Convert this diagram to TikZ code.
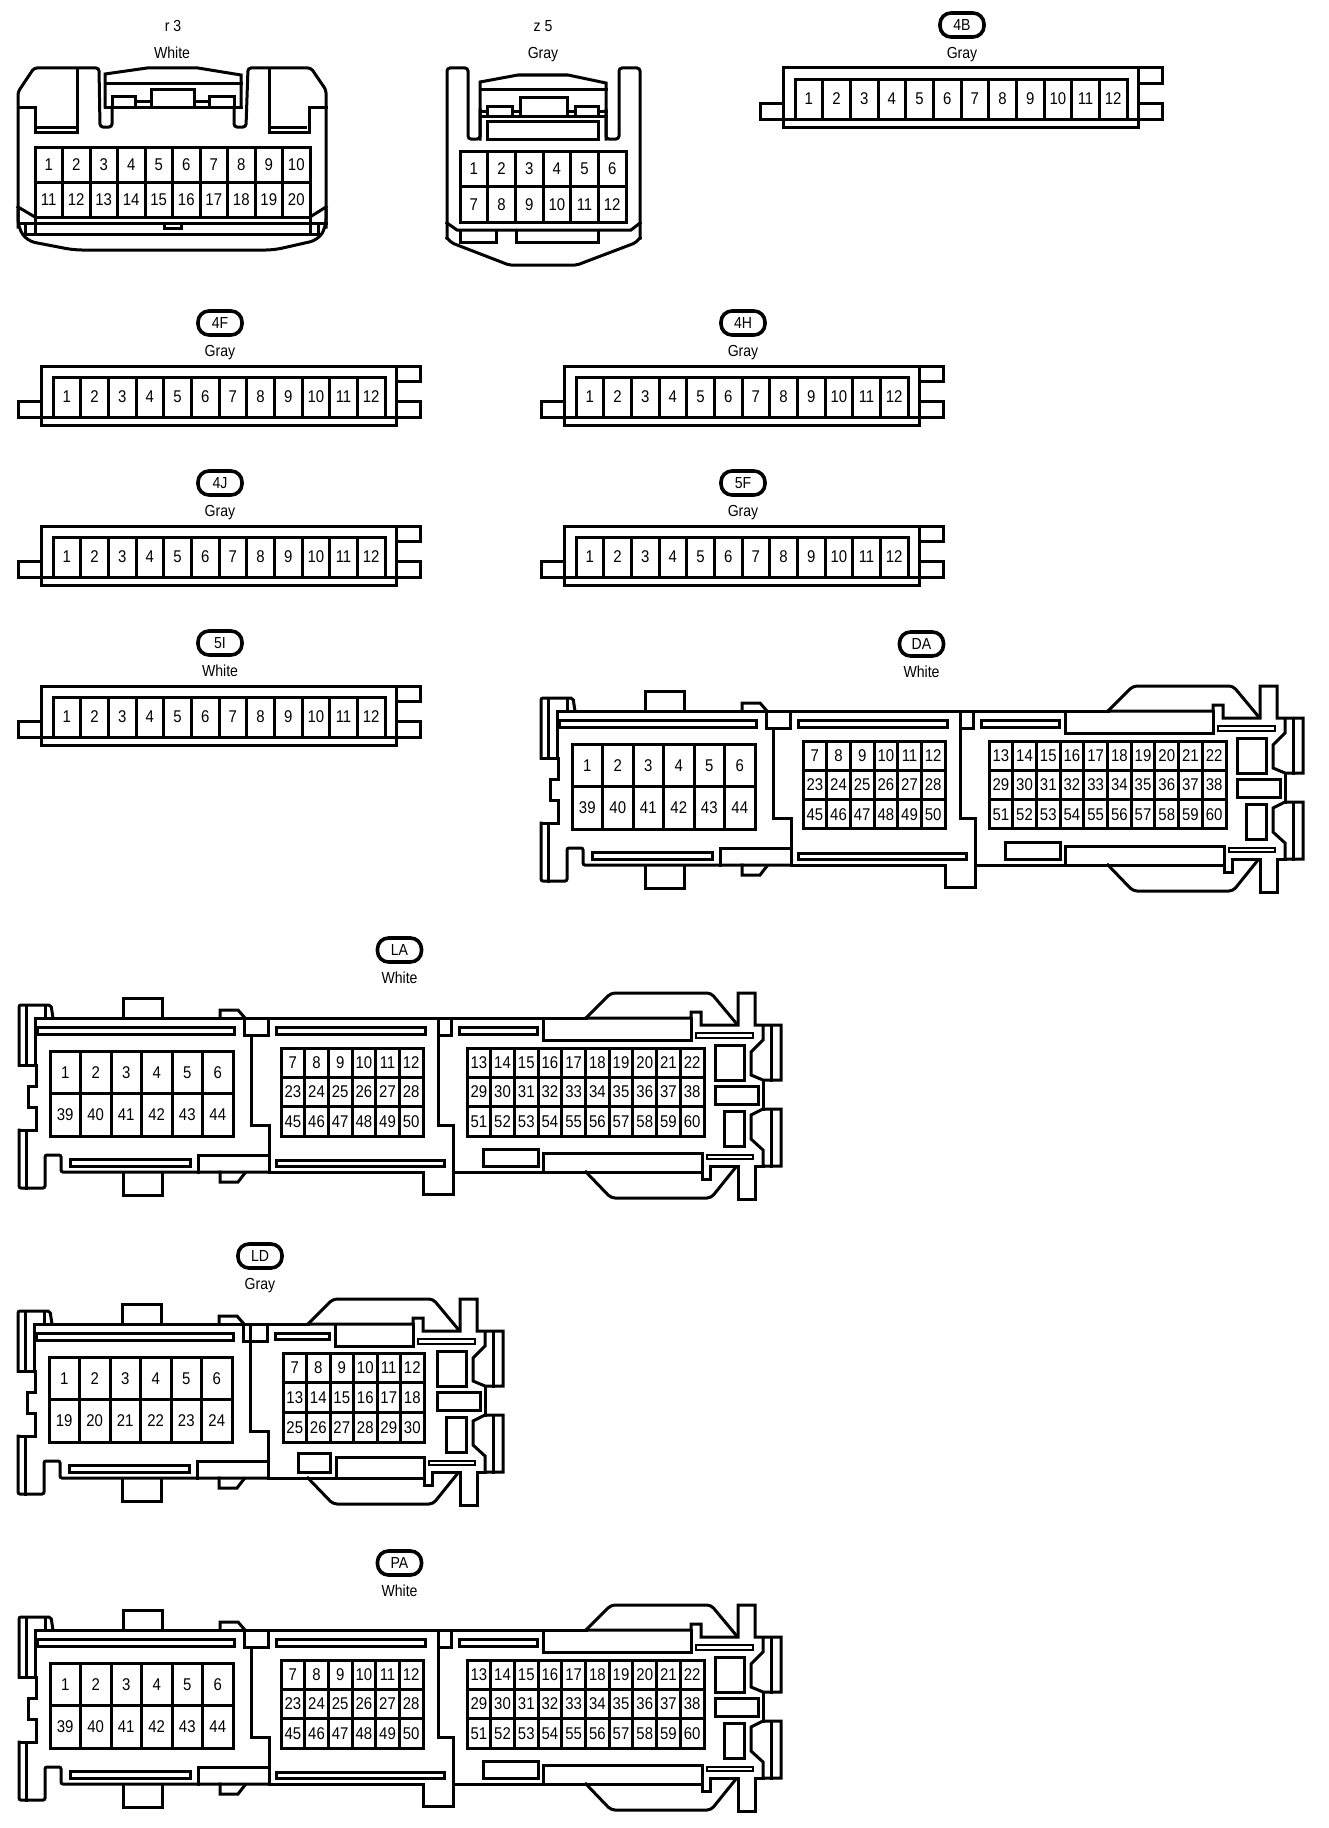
\documentclass[tikz,border=0pt]{standalone}
\usepackage{fontspec}
\setmainfont[FakeStretch=0.88]{Liberation Sans}

\newcommand{\pinrows}[7]{
\foreach \num [count=\k from 0] in {#7} {
\pgfmathtruncatemacro{\pincol}{mod(\k,#4)}
\pgfmathtruncatemacro{\pinrow}{int(\k/#4)}
\node[pin,minimum width=#5pt,minimum height=#6pt] (#1-\num) at ({#2+(\pincol+0.5)*#5},{#3+(\pinrow+0.5)*#6}) {\num};
}
}

\newcommand{\stripconn}[4]{
\begin{scope}[shift={(#1,#2)}]
\draw[wall] (23,0) rectangle (378,59);
\draw[wall] (23,51) -- (378,51);
\draw[wall] (23,35) -- (0,35) -- (0,51) -- (23,51);
\draw[wall] (378,0) -- (402,0) -- (402,15) -- (378,15);
\draw[wall] (378,35) -- (402,35) -- (402,51) -- (378,51);
\pinrows{#3}{35}{11}{12}{27.67}{40}{1,...,12}
\node[tag] (tag#3) at (202,-43) {#3};
\node[txt] (col#3) at (202,-15) {#4};
\end{scope}
}

\newcommand{\leftend}{
\draw[wall,rounded corners=2pt] (541,758) -- (541,698) -- (573,698) -- (575,711);
\draw[wall] (548,698) -- (548,758);
\draw[wall] (567,698) -- (567,711);
\draw[wall] (541,758) -- (557,758) -- (557,711) -- (791,711);
\draw[wall] (645,711) -- (645,691) -- (684,691) -- (684,711);
\draw[wall] (742,711) -- (742,703) -- (760,703) -- (767,711);
\draw[wall] (766,711) -- (766,728) -- (790,728) -- (790,711);
\draw[wall] (559,720.5) rectangle (756,727);
\draw[wall] (773,728) -- (773,818) -- (791,818) -- (791,865);
\draw[wall] (558,758) -- (558,779) -- (550,779) -- (550,800) -- (558,800) -- (558,823) -- (541,823);
\draw[wall,rounded corners=2pt] (541,823) -- (541,881) -- (567,881) -- (567,848) -- (583,848) -- (583,865) -- (791,865);
\draw[wall] (548,823) -- (548,881);
\draw[wall] (720,865) -- (720,848) -- (791,848);
\draw[wall] (592,852.5) rectangle (712,859);
\draw[wall] (645,865) -- (645,888) -- (684,888) -- (684,865);
\draw[wall] (742,865) -- (742,875) -- (760,875) -- (767,866);
}

\newcommand{\rightend}{
\draw[wall] (1108,711) -- (1213,711) -- (1213,705) -- (1223,705) -- (1223,718) -- (1260,718) -- (1260,686) -- (1277,686) -- (1277,718) -- (1303,718) -- (1303,773) -- (1285,773) -- (1273,768) -- (1273,745) -- (1285,733) -- (1285,718);
\draw[wall] (1293,718) -- (1293,773);
\draw[wall] (1285,773) -- (1285,802);
\draw[wall] (1285,802) -- (1303,802) -- (1303,859) -- (1285,859) -- (1285,843) -- (1273,832) -- (1273,808) -- cycle;
\draw[wall] (1293,802) -- (1293,859);
\draw[wall] (1108,865) -- (1224,865) -- (1224,872) -- (1232,872) -- (1232,859) -- (1260,859) -- (1260,892) -- (1277,892) -- (1277,859) -- (1285,859);
\draw[wall,rounded corners=4pt] (1108,711) -- (1133,686) -- (1233,686) -- (1258,716);
\draw[wall,rounded corners=4pt] (1108,865) -- (1133,891) -- (1233,891) -- (1258,860);
\draw[wall,line width=2pt] (1218,726) rectangle (1275,730.5);
\draw[wall,line width=2pt] (1229,847.5) rectangle (1275,851.5);
\draw[wall] (1237,738) rectangle (1266,773);
\draw[wall] (1237,779) rectangle (1280,797);
\draw[wall] (1246,804) rectangle (1266,839);
\draw[wall] (1213,711) -- (1213,733);
\draw[wall] (1224,846) -- (1224,865);
}

\newcommand{\widehousing}[1]{
\leftend
\rightend
\draw[wall] (791,711) -- (1108,711);
\draw[wall] (791,865) -- (945,865) -- (945,887) -- (975,887) -- (975,818) -- (960,818) -- (960,711);
\draw[wall] (975,865) -- (1108,865);
\draw[wall] (960,728) -- (973,728) -- (973,711);
\draw[wall] (798,720.5) rectangle (947,727);
\draw[wall] (798,853) rectangle (966,859);
\draw[wall] (981,720.5) rectangle (1059,727);
\draw[wall] (1065,711) -- (1065,733) -- (1213,733);
\draw[wall] (1065,865) -- (1065,846) -- (1224,846);
\draw[wall] (1005,842) rectangle (1060,859);
\pinrows{#1a}{572}{744}{6}{30.5}{42.5}{1,...,6,39,40,...,44}
\pinrows{#1b}{803}{741}{6}{23.67}{29.33}{7,...,12,23,24,...,28,45,46,...,50}
\pinrows{#1c}{989}{741}{10}{23.7}{29.33}{13,...,22,29,30,...,38,51,52,...,60}
}

\begin{document}
\begin{tikzpicture}
[
  x=1pt,y=-1pt,
  wall/.style={line width=3pt,line cap=rect},
  pin/.style={draw,line width=3pt,inner sep=0pt,font=\fontsize{17}{17}\selectfont},
  txt/.style={inner sep=0pt,text height=11.5pt,text depth=0pt,font=\fontsize{16}{16}\selectfont},
  tag/.style={draw,line width=3.6pt,rounded corners=11pt,inner sep=0pt,minimum width=44pt,minimum height=24pt,font=\fontsize{16}{16}\selectfont}
]

\useasboundingbox (0,0) rectangle (1328,1828);

\node[txt] (r3) at (173,26) {r 3};
\node[txt] (r3c) at (172,53) {White};
\draw[wall,rounded corners=3pt] (18,227) -- (18,92) -- (34,68) -- (99,68) -- (100,127) -- (112,127) -- (112,107);
\draw[wall,rounded corners=8pt] (18,210) -- (18,227) -- (27,241) -- (74,250) -- (274,250) -- (318,240) -- (326,227) -- (326,210);
\draw[wall,rounded corners=3pt] (326,227) -- (326,90) -- (311,68) -- (248,68) -- (246,127) -- (234,127) -- (234,107);
\draw[wall] (105,107) -- (105,74) -- (147,68) -- (198,68) -- (241,75) -- (241,107);
\draw[wall] (105,83) -- (241,83);
\draw[wall] (105,107) -- (241,107);
\draw[wall] (112,107) -- (112,96) -- (135,96) -- (135,107);
\draw[wall] (151,107) -- (151,89) -- (194,89) -- (194,107);
\draw[wall] (209,107) -- (209,96) -- (234,96) -- (234,107);
\draw[wall] (135,101) -- (151,101);
\draw[wall] (194,101) -- (209,101);
\draw[wall] (18,107) -- (35,107) -- (35,132) -- (77,132) -- (77,70);
\draw[wall] (326,107) -- (309,107) -- (309,132) -- (269,132) -- (269,70);
\draw[wall] (38,127) -- (75,127);
\draw[wall] (272,127) -- (305,127);
\pinrows{r3p}{35}{147}{10}{27.5}{35}{1,...,20}
\draw[wall] (18,207) -- (35,217);
\draw[wall] (326,207) -- (310,217);
\draw[wall] (18,223) -- (326,223);
\draw[wall] (25,234) -- (318,234);
\draw[wall] (25,223) -- (25,234);
\draw[wall] (35,217) -- (35,234);
\draw[wall] (310,217) -- (310,234);
\draw[wall] (318,223) -- (318,234);
\draw[wall] (164,224) -- (164,228) -- (181,228) -- (181,224);

\node[txt] (z5) at (543,26) {z 5};
\node[txt] (z5c) at (543,53) {Gray};
\draw[wall,rounded corners=3pt] (447,238) -- (447,68) -- (468,68) -- (468,139) -- (480,139) -- (480,110);
\draw[wall] (480,139) -- (480,82) -- (518,75) -- (568,75) -- (606,83) -- (606,139);
\draw[wall,rounded corners=3pt] (606,110) -- (606,139) -- (619,139) -- (619,68) -- (640,68) -- (640,238);
\draw[wall,rounded corners=2pt] (447,238) -- (452,243) -- (509,265) -- (577,265) -- (635,243) -- (640,238);
\draw[wall] (480,89) -- (606,89);
\draw[wall] (480,116) -- (606,116);
\draw[wall] (487,116) -- (487,106) -- (512,106) -- (512,116);
\draw[wall] (520,116) -- (520,97) -- (567,97) -- (567,116);
\draw[wall] (575,116) -- (575,106) -- (598,106) -- (598,116);
\draw[wall] (480,111) -- (487,111);
\draw[wall] (512,111) -- (520,111);
\draw[wall] (567,111) -- (575,111);
\draw[wall] (598,111) -- (606,111);
\draw[wall] (487,121) rectangle (598,139);
\pinrows{z5p}{460}{151}{6}{27.67}{35.5}{1,...,12}
\draw[wall] (447,223) -- (457,230) -- (631,230) -- (640,223);
\draw[wall] (460,230) -- (460,242) -- (496,242) -- (496,230);
\draw[wall] (516,230) -- (516,242) -- (598,242) -- (598,230);

\stripconn{760}{68}{4B}{Gray}
\stripconn{18}{366}{4F}{Gray}
\stripconn{541}{366}{4H}{Gray}
\stripconn{18}{526}{4J}{Gray}
\stripconn{541}{526}{5F}{Gray}
\stripconn{18}{686}{5I}{White}

\node[tag] (tagDA) at (921.5,644) {DA};
\node[txt] (colDA) at (921.5,672) {White};
\widehousing{DA}

\begin{scope}[shift={(-522,307)}]
\node[tag] (tagLA) at (921.5,643) {LA};
\node[txt] (colLA) at (921.5,671) {White};
\widehousing{LA}
\end{scope}

\begin{scope}[shift={(-522,919)}]
\node[tag] (tagPA) at (921.5,644) {PA};
\node[txt] (colPA) at (921.5,672) {White};
\widehousing{PA}
\end{scope}

\node[tag] (tagLD) at (260,1256) {LD};
\node[txt] (colLD) at (260,1284) {Gray};
\begin{scope}[shift={(-523,613)}]
\leftend
\draw[wall] (773,711) -- (773,728);
\pinrows{LDa}{572}{744}{6}{30.5}{42.5}{1,...,6,19,20,...,24}
\end{scope}
\begin{scope}[shift={(-800,613)}]
\rightend
\draw[wall] (1068,711) -- (1108,711);
\draw[wall] (1068,865) -- (1108,865);
\draw[wall] (1075,720.5) rectangle (1129,726);
\draw[wall] (1135,711) -- (1135,733) -- (1213,733);
\draw[wall] (1136,865) -- (1136,844) -- (1224,844);
\draw[wall] (1098,840) rectangle (1130,859);
\pinrows{LDb}{1083}{740}{6}{23.5}{29.67}{7,...,18,25,26,...,30}
\end{scope}

\end{tikzpicture}
\end{document}
